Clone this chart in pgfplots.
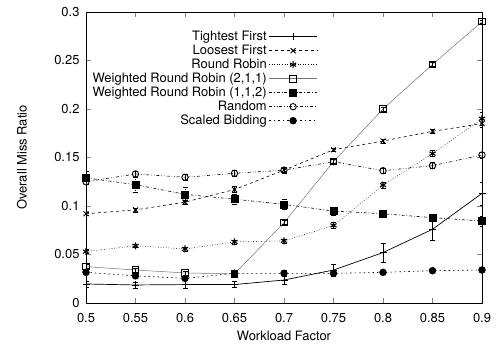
\documentclass[border=0pt]{standalone}
\usepackage{fontspec}
\setmainfont{TeX Gyre Heros}
\usepackage{pgfplots}
\pgfplotsset{compat=1.18}
\begin{document}
\begin{tikzpicture}
\begin{axis}[
  scale only axis,
  width=396bp, height=291bp,
  xmin=0.5, xmax=0.9, ymin=0, ymax=0.3,
  xtick={0.5,0.55,...,0.9},
  ytick={0,0.05,...,0.3},
  tick align=inside,
  major tick length=5bp,
  axis line style={line width=0.9pt},
  /pgf/number format/assume math mode=true,
  /pgf/number format/fixed,
  /pgf/number format/precision=2,
  xticklabel style={yshift=-6.5bp},
  yticklabel style={xshift=-3bp},
  font=\fontsize{13}{14}\selectfont,
  xlabel={Workload Factor},
  ylabel={Overall Miss Ratio},
  xlabel style={at={(axis description cs:0.5,-0.113)}, anchor=center},
  ylabel style={at={(axis description cs:-0.162,0.5)}, anchor=center},
  legend style={draw=none, fill=none, at={(axis cs:0.737,0.284)}, anchor=north east,
    row sep=0pt, font=\fontsize{13}{14}\selectfont,
    nodes={text height=9.5bp, text depth=2.5bp, inner ysep=1bp, inner xsep=2bp}},
  legend cell align=right,
  legend plot pos=right,
  legend image code/.code={\draw[mark repeat=2,mark phase=2] plot coordinates {(0bp,0bp)(24bp,0bp)(48bp,0bp)};},
  error bars/error bar style={black, line width=0.5pt},
  error bars/error mark options={black, rotate=90, mark size=2.5bp, line width=0.5pt},
]
% Tightest First
\addplot[black, line width=0.7pt, mark=+, mark size=3.5bp, mark options={line width=0.8pt},
  error bars/.cd, y dir=both, y explicit] coordinates {
  (0.5,0.0196) +- (0,0.003)
  (0.55,0.0186) +- (0,0.003)
  (0.6,0.019) +- (0,0.004)
  (0.65,0.019) +- (0,0.003)
  (0.7,0.0237) +- (0,0.004)
  (0.75,0.034) +- (0,0.006)
  (0.8,0.052) +- (0,0.010)
  (0.85,0.076) +- (0,0.011)
  (0.9,0.113) +- (0,0.012)
};
\addlegendentry{Tightest First}
% Loosest First
\addplot[black, line width=0.6pt, dashed, mark=x, mark size=3.5bp, mark options={solid, line width=0.9pt},
  error bars/.cd, y dir=both, y explicit] coordinates {
  (0.5,0.092) +- (0,0.002)
  (0.55,0.096) +- (0,0.002)
  (0.6,0.104) +- (0,0.002)
  (0.65,0.117) +- (0,0.003)
  (0.7,0.137) +- (0,0.002)
  (0.75,0.158) +- (0,0.002)
  (0.8,0.167) +- (0,0.002)
  (0.85,0.177) +- (0,0.002)
  (0.9,0.185) +- (0,0.004)
};
\addlegendentry{Loosest First}
% Round Robin
\addplot[black, line width=0.6pt, dotted, mark=asterisk, mark size=3.5bp, mark options={solid, line width=1.1pt},
  error bars/.cd, y dir=both, y explicit] coordinates {
  (0.5,0.053) +- (0,0.002)
  (0.55,0.059) +- (0,0.002)
  (0.6,0.0557) +- (0,0.002)
  (0.65,0.063) +- (0,0.002)
  (0.7,0.064) +- (0,0.002)
  (0.75,0.080) +- (0,0.003)
  (0.8,0.1216) +- (0,0.003)
  (0.85,0.154) +- (0,0.003)
  (0.9,0.190) +- (0,0.007)
};
\addlegendentry{Round Robin}
% WRR (2,1,1)
\addplot[black!55, line width=0.5pt, mark=square, mark size=3.2bp, mark options={solid, black, line width=0.8pt},
  error bars/.cd, y dir=both, y explicit] coordinates {
  (0.5,0.0375) +- (0,0.002)
  (0.55,0.034) +- (0,0.002)
  (0.6,0.031) +- (0,0.002)
  (0.65,0.030) +- (0,0.002)
  (0.7,0.0828) +- (0,0.002)
  (0.75,0.1457) +- (0,0.002)
  (0.8,0.200) +- (0,0.002)
  (0.85,0.246) +- (0,0.002)
  (0.9,0.290) +- (0,0.002)
};
\addlegendentry{Weighted Round Robin (2,1,1)}
% WRR (1,1,2)
\addplot[black, line width=0.6pt, dash dot, mark=square*, mark size=3.5bp, mark options={solid},
  error bars/.cd, y dir=both, y explicit] coordinates {
  (0.5,0.129) +- (0,0.007)
  (0.55,0.122) +- (0,0.008)
  (0.6,0.112) +- (0,0.007)
  (0.65,0.107) +- (0,0.005)
  (0.7,0.1017) +- (0,0.005)
  (0.75,0.0948) +- (0,0.004)
  (0.8,0.092) +- (0,0.004)
  (0.85,0.088) +- (0,0.004)
  (0.9,0.0845) +- (0,0.005)
};
\addlegendentry{Weighted Round Robin (1,1,2)}
% Random
\addplot[black, line width=0.6pt, dash dot dot, mark=o, mark size=3.2bp, mark options={solid, line width=0.9pt},
  error bars/.cd, y dir=both, y explicit] coordinates {
  (0.5,0.125) +- (0,0.003)
  (0.55,0.133) +- (0,0.003)
  (0.6,0.1296) +- (0,0.003)
  (0.65,0.1337) +- (0,0.003)
  (0.7,0.137) +- (0,0.003)
  (0.75,0.1457) +- (0,0.003)
  (0.8,0.1364) +- (0,0.003)
  (0.85,0.1416) +- (0,0.003)
  (0.9,0.1526) +- (0,0.003)
};
\addlegendentry{Random}
% Scaled Bidding
\addplot[black, line width=0.6pt, dash pattern=on 1.5pt off 3pt, mark=*, mark size=3.4bp, mark options={solid},
  error bars/.cd, y dir=both, y explicit] coordinates {
  (0.5,0.0316) +- (0,0.002)
  (0.55,0.028) +- (0,0.002)
  (0.6,0.0254) +- (0,0.002)
  (0.65,0.0306) +- (0,0.002)
  (0.7,0.0306) +- (0,0.003)
  (0.75,0.0306) +- (0,0.003)
  (0.8,0.0316) +- (0,0.002)
  (0.85,0.0333) +- (0,0.002)
  (0.9,0.034) +- (0,0.002)
};
\addlegendentry{Scaled Bidding}
\end{axis}
\pgfresetboundingbox
\path ([shift={(-86bp,-43bp)}]current axis.south west) rectangle ([shift={(15bp,12bp)}]current axis.north east);
\end{tikzpicture}
\end{document}
